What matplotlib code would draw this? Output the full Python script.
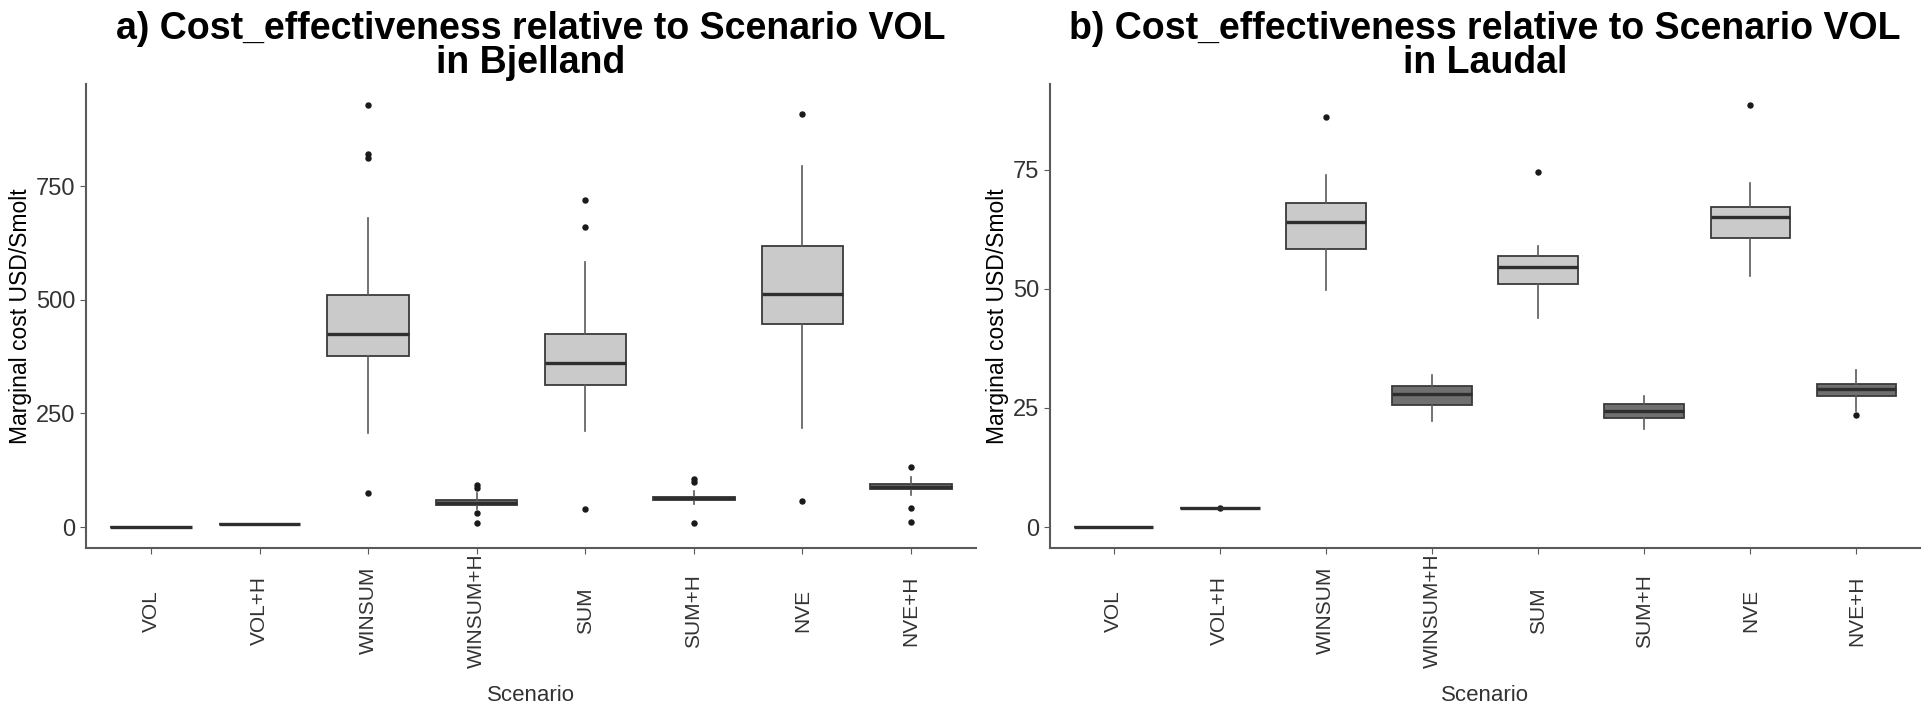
"""
plot.py
-------
Marginal cost per smolt relative to scenario VOL, Bjelland vs Laudal.
Boxes are drawn from summary stats read off the original figure.
"""

import matplotlib
matplotlib.use("Agg")
import matplotlib.pyplot as plt

scenarios = ["VOL", "VOL+H", "WINSUM", "WINSUM+H", "SUM", "SUM+H", "NVE", "NVE+H"]

# ── Bjelland (USD/smolt) ──────────────────────────────────────────────────────
bj_whislo = [0, 6, 207, 40, 211, 50, 218, 70]
bj_q1     = [0, 6, 377, 49, 313, 59, 447, 83]
bj_med    = [0, 6, 425, 54, 361, 63, 513, 89]
bj_q3     = [0, 6, 511, 59, 425, 67, 619, 95]
bj_whishi = [0, 6, 681, 75, 584, 80, 795, 110]
bj_fliers = [[], [], [75, 813, 822, 929], [9, 31, 86, 92],
             [40, 661, 720], [9, 99, 106], [57, 910], [11, 42, 132]]

# ── Laudal (USD/smolt) ────────────────────────────────────────────────────────
la_whislo = [0, 4.0, 49.7, 22.3, 43.8, 20.6, 52.8, 24.4]
la_q1     = [0, 4.0, 58.3, 25.7, 51.0, 23.0, 60.6, 27.6]
la_med    = [0, 4.0, 64.0, 28.0, 54.5, 24.4, 65.0, 29.0]
la_q3     = [0, 4.0, 68.0, 29.7, 56.8, 25.9, 67.2, 30.1]
la_whishi = [0, 4.0, 74.0, 32.0, 59.0, 27.6, 72.2, 33.0]
la_fliers = [[], [4.0], [86.0], [], [74.5], [], [88.6], [23.6]]

FILL_LIGHT = "#CACACA"
FILL_DARK = "#707070"
EDGE = "#3A3A3A"
AXIS_GREY = "#5A5A5A"
TEXT_GREY = "#333333"


def make_stats(whislo, q1, med, q3, whishi, fliers):
    return [dict(whislo=a, q1=b, med=c, q3=d, whishi=e, fliers=f, label=s)
            for a, b, c, d, e, f, s in zip(whislo, q1, med, q3, whishi, fliers, scenarios)]


def draw_panel(ax, stats, title, yticks):
    bp = ax.bxp(stats, positions=range(1, len(stats) + 1), widths=0.75,
                patch_artist=True, showcaps=False,
                boxprops=dict(edgecolor=EDGE, linewidth=1.3),
                medianprops=dict(color="#2E2E2E", linewidth=2.4),
                whiskerprops=dict(color=AXIS_GREY, linewidth=1.2),
                flierprops=dict(marker="o", markersize=3.6, markerfacecolor="#1A1A1A",
                                markeredgecolor="#1A1A1A"))
    for name, patch in zip(scenarios, bp["boxes"]):
        patch.set_facecolor(FILL_DARK if name.endswith("+H") else FILL_LIGHT)

    # ggplot-like 5 % expansion on y, 0.6 units on discrete x
    lo = min(s["whislo"] for s in stats)
    hi = max([s["whishi"] for s in stats] + [v for s in stats for v in s["fliers"]])
    pad = (hi - lo) * 0.05
    ax.set_ylim(lo - pad, hi + pad)
    ax.set_xlim(0.4, len(stats) + 0.6)

    ax.set_yticks(yticks)
    ax.set_xticks(range(1, len(stats) + 1))
    ax.set_xticklabels(scenarios, rotation=90, va="center", fontsize=15, color=TEXT_GREY)
    ax.tick_params(axis="x", pad=41, length=4, color=AXIS_GREY)
    ax.tick_params(axis="y", labelsize=17, labelcolor=TEXT_GREY, length=4, color=AXIS_GREY)

    for side in ("top", "right"):
        ax.spines[side].set_visible(False)
    for side in ("left", "bottom"):
        ax.spines[side].set_color(AXIS_GREY)
        ax.spines[side].set_linewidth(1.5)

    ax.set_xlabel("Scenario", fontsize=16, color=TEXT_GREY, labelpad=12)
    ax.set_ylabel("Marginal cost USD/Smolt", fontsize=16.5, color="black", labelpad=3)
    ax.set_title(title, fontsize=27, fontweight="bold", pad=8, linespacing=0.92)


def main():
    plt.rcParams["font.family"] = ["Liberation Sans", "DejaVu Sans"]
    fig = plt.figure(figsize=(19.27, 7.11), dpi=100)

    ax_a = fig.add_axes([0.0446, 0.229, 0.4619, 0.653])
    ax_b = fig.add_axes([0.5449, 0.229, 0.4515, 0.653])

    draw_panel(ax_a, make_stats(bj_whislo, bj_q1, bj_med, bj_q3, bj_whishi, bj_fliers),
               "a) Cost_effectiveness relative to Scenario VOL\nin Bjelland",
               [0, 250, 500, 750])
    draw_panel(ax_b, make_stats(la_whislo, la_q1, la_med, la_q3, la_whishi, la_fliers),
               "b) Cost_effectiveness relative to Scenario VOL\nin Laudal",
               [0, 25, 50, 75])

    fig.savefig("out.png", dpi=100)


if __name__ == "__main__":
    main()
